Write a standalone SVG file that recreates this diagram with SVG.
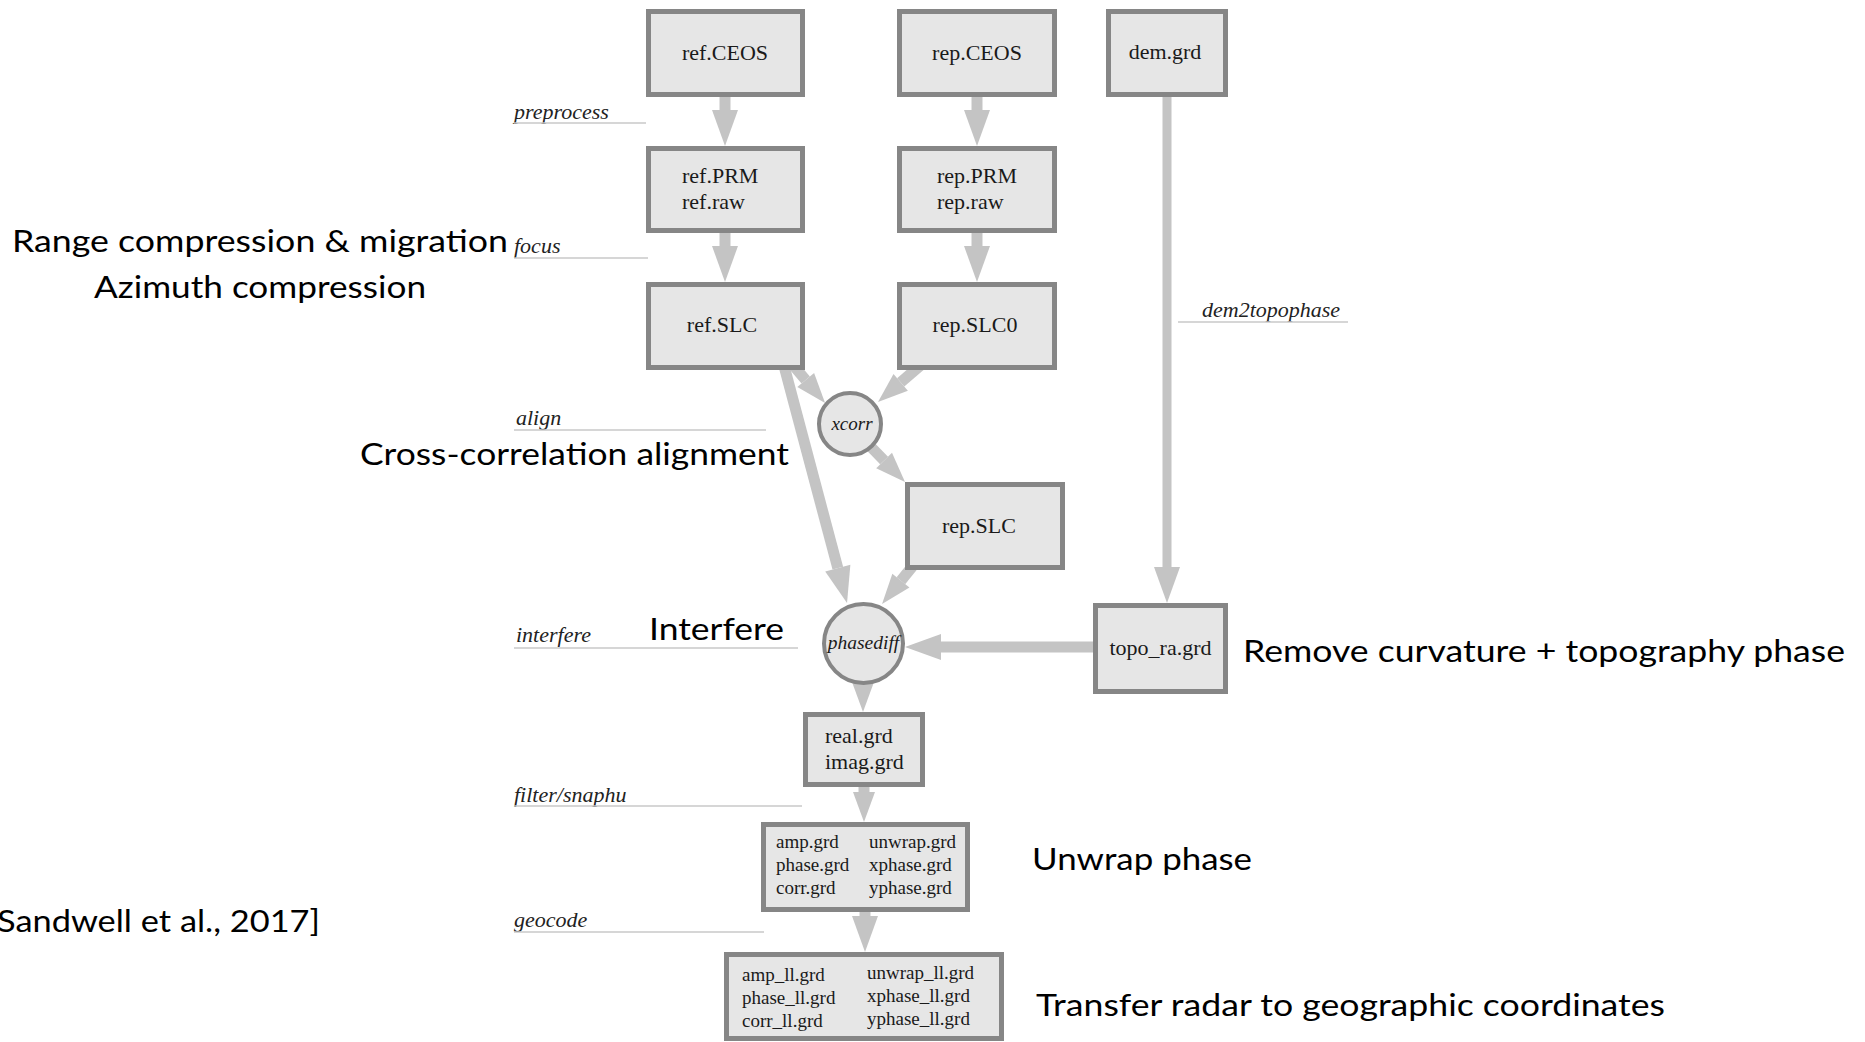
<svg xmlns="http://www.w3.org/2000/svg" width="1865" height="1042" viewBox="0 0 1865 1042">
<style>
.box{fill:#e6e6e6;stroke:#868686;stroke-width:5}
.circ{fill:#e6e6e6;stroke:#868686;stroke-width:4}
.nt{font-family:"Liberation Serif","Times New Roman",serif;font-size:22px;fill:#1a1a1a}
.st{font-family:"Liberation Serif","Times New Roman",serif;font-size:19px;fill:#1a1a1a}
.it{font-family:"Liberation Serif","Times New Roman",serif;font-style:italic;fill:#1a1a1a}
.lbl{font-family:"Liberation Serif","Times New Roman",serif;font-style:italic;font-size:22px;fill:#222}
.ul{stroke:#c8c8c8;stroke-width:1.5;fill:none}
.big{font-family:Lato,"Open Sans",sans-serif;font-size:30px;fill:#000}
.sh{stroke:#c4c4c4;stroke-width:11;fill:none}
.c{text-anchor:middle}
</style>
<defs>
<marker id="ah" markerUnits="userSpaceOnUse" markerWidth="36" markerHeight="26" refX="0" refY="13" orient="auto" overflow="visible"><path d="M0,0 L36,13 L0,26 z" fill="#c4c4c4"/></marker>
<marker id="ahs" markerUnits="userSpaceOnUse" markerWidth="30" markerHeight="22" refX="0" refY="11" orient="auto" overflow="visible"><path d="M0,0 L30,11 L0,22 z" fill="#c4c4c4"/></marker>
</defs>
<rect width="1865" height="1042" fill="#fff"/>

<g id="step-labels">
<text class="lbl" x="514" y="119">preprocess</text><line class="ul" x1="514" y1="123" x2="646" y2="123"/>
<text class="lbl" x="514" y="253">focus</text><line class="ul" x1="514" y1="258" x2="648" y2="258"/>
<text class="lbl" x="516" y="425">align</text><line class="ul" x1="514" y1="430" x2="766" y2="430"/>
<text class="lbl" x="516" y="642">interfere</text><line class="ul" x1="514" y1="648" x2="798" y2="648"/>
<text class="lbl" x="514" y="802">filter/snaphu</text><line class="ul" x1="514" y1="806" x2="802" y2="806"/>
<text class="lbl" x="514" y="927">geocode</text><line class="ul" x1="514" y1="932" x2="764" y2="932"/>
<text class="lbl" x="1202" y="317">dem2topophase</text><line class="ul" x1="1178" y1="322" x2="1348" y2="322"/>
</g>

<g id="connectors">
<line class="sh" x1="725" y1="90" x2="725" y2="110" marker-end="url(#ah)"/>
<line class="sh" x1="977" y1="90" x2="977" y2="110" marker-end="url(#ah)"/>
<line class="sh" x1="725" y1="228" x2="725" y2="246" marker-end="url(#ah)"/>
<line class="sh" x1="977" y1="228" x2="977" y2="246" marker-end="url(#ah)"/>
<line class="sh" style="stroke-width:9" x1="1167" y1="90" x2="1167" y2="567" marker-end="url(#ah)"/>
<line class="sh" x1="793" y1="365" x2="805.7" y2="380" marker-end="url(#ahs)"/>
<line class="sh" x1="922" y1="364" x2="900.7" y2="382.4" marker-end="url(#ahs)"/>
<line class="sh" x1="783" y1="362" x2="837.8" y2="568.2" marker-end="url(#ah)"/>
<line class="sh" x1="870" y1="446" x2="884.1" y2="460.5" marker-end="url(#ahs)"/>
<line class="sh" x1="916" y1="562" x2="900.9" y2="580.7" marker-end="url(#ahs)"/>
<line class="sh" x1="1100" y1="647" x2="941" y2="647" marker-end="url(#ah)"/>
<line class="sh" x1="863" y1="670" x2="863" y2="682" marker-end="url(#ahs)"/>
<line class="sh" x1="864" y1="780" x2="864" y2="792" marker-end="url(#ahs)"/>
<line class="sh" x1="865" y1="905" x2="865" y2="916" marker-end="url(#ah)"/>
</g>

<g id="ref-ceos"><rect class="box" x="648.5" y="11.5" width="154" height="83"/><text class="nt c" x="725" y="60">ref.CEOS</text></g>
<g id="rep-ceos"><rect class="box" x="899.5" y="11.5" width="155" height="83"/><text class="nt c" x="977" y="60">rep.CEOS</text></g>
<g id="dem-grd"><rect class="box" x="1108.5" y="11.5" width="117" height="83"/><text class="nt c" x="1165" y="59">dem.grd</text></g>
<g id="ref-prm"><rect class="box" x="648.5" y="148.5" width="154" height="82"/><text class="nt" x="682" y="183">ref.PRM</text><text class="nt" x="682" y="209">ref.raw</text></g>
<g id="rep-prm"><rect class="box" x="899.5" y="148.5" width="155" height="82"/><text class="nt" x="937" y="183">rep.PRM</text><text class="nt" x="937" y="209">rep.raw</text></g>
<g id="ref-slc"><rect class="box" x="648.5" y="284.5" width="154" height="83"/><text class="nt c" x="722" y="332">ref.SLC</text></g>
<g id="rep-slc0"><rect class="box" x="899.5" y="284.5" width="155" height="83"/><text class="nt c" x="975" y="332">rep.SLC0</text></g>
<g id="xcorr"><circle class="circ" cx="850" cy="424" r="31"/><text class="it c" style="font-size:19px" x="852" y="430">xcorr</text></g>
<g id="rep-slc"><rect class="box" x="907.5" y="484.5" width="155" height="83"/><text class="nt c" x="979" y="533">rep.SLC</text></g>
<g id="phasediff"><circle class="circ" cx="863.5" cy="643.5" r="39.5"/><text class="it c" style="font-size:19.5px" x="863.5" y="649">phasediff</text></g>
<g id="topo-ra"><rect class="box" x="1095.5" y="605.5" width="130" height="86"/><text class="nt c" x="1160.5" y="655">topo_ra.grd</text></g>
<g id="real-imag"><rect class="box" x="805.5" y="714.5" width="117" height="70"/><text class="nt" x="825" y="743">real.grd</text><text class="nt" x="825" y="769">imag.grd</text></g>
<g id="grids"><rect class="box" x="763.5" y="824.5" width="204" height="85"/>
<text class="st" x="776" y="848">amp.grd</text><text class="st" x="776" y="871">phase.grd</text><text class="st" x="776" y="894">corr.grd</text>
<text class="st" x="869" y="848">unwrap.grd</text><text class="st" x="869" y="871">xphase.grd</text><text class="st" x="869" y="894">yphase.grd</text></g>
<g id="grids-ll"><rect class="box" x="726.5" y="954.5" width="275" height="84"/>
<text class="st" x="742" y="981">amp_ll.grd</text><text class="st" x="742" y="1004">phase_ll.grd</text><text class="st" x="742" y="1027">corr_ll.grd</text>
<text class="st" x="867" y="979">unwrap_ll.grd</text><text class="st" x="867" y="1002">xphase_ll.grd</text><text class="st" x="867" y="1025">yphase_ll.grd</text></g>

<g id="annotations">
<text class="big" x="12" y="252" textLength="496" lengthAdjust="spacingAndGlyphs">Range compression &amp; migration</text>
<text class="big c" x="260" y="298" textLength="332" lengthAdjust="spacingAndGlyphs">Azimuth compression</text>
<text class="big" x="360" y="465" textLength="429" lengthAdjust="spacingAndGlyphs">Cross-correlation alignment</text>
<text class="big" x="649" y="640" textLength="135" lengthAdjust="spacingAndGlyphs">Interfere</text>
<text class="big" x="1243" y="662" textLength="602" lengthAdjust="spacingAndGlyphs">Remove curvature + topography phase</text>
<text class="big" x="1032" y="870" textLength="220" lengthAdjust="spacingAndGlyphs">Unwrap phase</text>
<text class="big" x="1036" y="1016" textLength="629" lengthAdjust="spacingAndGlyphs">Transfer radar to geographic coordinates</text>
<text class="big" x="-3" y="932" textLength="323" lengthAdjust="spacingAndGlyphs">Sandwell et al., 2017]</text>
</g>
</svg>
